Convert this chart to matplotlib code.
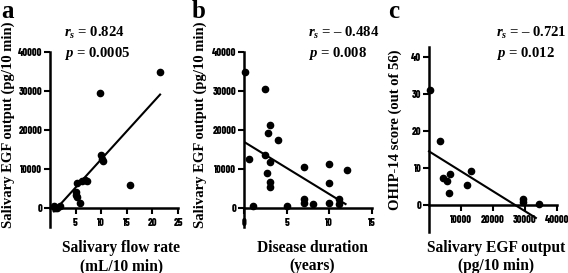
import numpy as np
import matplotlib
matplotlib.use("Agg")
import matplotlib.pyplot as plt

# data
flow_x = [21.5, 9.8, 10.0, 10.2, 10.3, 15.7, 5.9, 5.3, 5.0, 5.1, 5.2, 6.2, 6.9, 7.2, 0.75, 1.0, 1.9, 1.4]
flow_y = [34700, 29500, 13500, 12500, 12000, 5800, 1100, 6200, 4100, 3200, 2800, 6700, 7100, 6800, 300, -200, 300, 0]
flow_fit_x = [0.75, 21.5]
flow_fit_y = [-1000, 29000]

dur_x = [0.1, 0.6, 1.0, 2.5, 2.8, 3.0, 2.5, 3.1, 2.7, 3.0, 3.0, 4.0, 5.0, 7.0, 7.0, 7.0, 8.1, 10.0, 10.0, 10.0, 11.1, 11.1, 12.1]
dur_y = [34900, 12400, 400, 30600, 19100, 21200, 13500, 11800, 8800, 6700, 5400, 17500, 400, 10500, 2100, 1300, 900, 11200, 6200, 1100, 2100, 900, 9700]
dur_fit_x = [0.0, 11.9]
dur_fit_y = [16900, 900]

egf_x = [200, 3300, 4400, 5700, 6100, 6600, 12000, 13000, 29300, 29300, 34500]
ohip_y = [31, 17.2, 7.3, 6.4, 3.3, 8.3, 5.3, 9.1, 1.6, 0.7, 0.3]
ohip_fit_x = [0, 33400]
ohip_fit_y = [14.5, -3.5]

labels = ['a', 'b', 'c']
stats = [(r'$r_s$ = 0.824', r'$p$ = 0.0005'),
         (r'$r_s$ = –' + '\u2009' + '0.484', r'$p$ = 0.008'),
         (r'$r_s$ = –' + '\u2009' + '0.721', r'$p$ = 0.012')]

serif = 'Liberation Serif'
tickfont = ['Barlow Condensed', 'Archivo Narrow', 'DejaVu Sans']

plt.rcParams['mathtext.fontset'] = 'custom'
plt.rcParams['mathtext.it'] = 'Liberation Serif:bold:italic'
plt.rcParams['mathtext.rm'] = 'Liberation Serif:bold'
plt.rcParams['mathtext.bf'] = 'Liberation Serif:bold'

W, H = 568, 273
fig = plt.figure(figsize=(W / 100, H / 100), dpi=100)

def box(l, r, t, b):
    return [l / W, 1 - b / H, (r - l) / W, (b - t) / H]

axa = fig.add_axes(box(50, 178, 51.7, 227))
axb = fig.add_axes(box(244, 372, 52, 227))
axc = fig.add_axes(box(429, 557, 47, 232))

def style(ax, xt, yt, xlim, ylim):
    ax.set_xlim(*xlim)
    ax.set_ylim(*ylim)
    ax.spines['top'].set_visible(False)
    ax.spines['right'].set_visible(False)
    ax.spines['bottom'].set_position(('data', 0))
    for s in ('left', 'bottom'):
        ax.spines[s].set_linewidth(1.8)
    ax.set_xticks(xt)
    ax.set_yticks(yt)
    ax.set_xticklabels([str(v) for v in xt])
    ax.set_yticklabels([str(v) for v in yt])
    ax.tick_params(direction='out', length=4, width=1.5, pad=1.5,
                   labelsize=7.5)
    ax.tick_params(axis='x', pad=3.5)
    for t in ax.get_xticklabels() + ax.get_yticklabels():
        t.set_fontfamily(tickfont)
        t.set_fontweight('heavy')
    ax.patch.set_visible(False)

style(axa, [5, 10, 15, 20, 25], [0, 10000, 20000, 30000, 40000], (0, 25), (-5000, 40000))
style(axb, [0, 5, 10, 15], [0, 10000, 20000, 30000, 40000], (0, 15), (-5000, 40000))
style(axc, [10000, 20000, 30000, 40000], [0, 10, 20, 30, 40], (0, 40000), (-7.3, 42.7))

axa.plot(flow_x, flow_y, 'o', color='black', ms=4.5, clip_on=False)
axa.plot(flow_fit_x, flow_fit_y, '-', color='black', lw=1.5)
axb.plot(dur_x, dur_y, 'o', color='black', ms=4.5, clip_on=False)
axb.plot(dur_fit_x, dur_fit_y, '-', color='black', lw=1.5)
axc.plot(egf_x, ohip_y, 'o', color='black', ms=4.5, clip_on=False)
axc.plot(ohip_fit_x, ohip_fit_y, '-', color='black', lw=1.5, clip_on=False)

tkw = dict(family=serif, weight='bold')

# panel letters
for x, lab in zip([1, 192, 388], labels):
    fig.text(x / W, 1 - 18 / H, lab, family=serif, weight='bold', fontsize=18, va='baseline')

# stats
for x, (r, p) in zip([64, 308, 496], stats):
    fig.text(x / W, 1 - 33 / H, r, va='center', fontsize=10.6, **tkw)
    fig.text(x / W, 1 - 53 / H, p, va='center', fontsize=10.6, **tkw)

# y labels
fig.text(8 / W, 1 - 228 / H, 'Salivary EGF output (pg/10 min)', rotation=90,
         ha='center', va='bottom', fontsize=10.5, **tkw)
fig.text(200 / W, 1 - 228 / H, 'Salivary EGF output (pg/10 min)', rotation=90,
         ha='center', va='bottom', fontsize=10.5, **tkw)
fig.text(395 / W, 1 - 210 / H, 'OHIP-14 score (out of 56)', rotation=90,
         ha='center', va='bottom', fontsize=10.5, **tkw)

# x labels
for x, l1, l2 in [(121, 'Salivary flow rate', '(mL/10 min)'),
                  (312, 'Disease duration', '(years)'),
                  (496, 'Salivary EGF output', '(pg/10 min)')]:
    fig.text(x / W, 1 - 248 / H, l1, ha='center', va='center', fontsize=11.2, **tkw)
    fig.text(x / W, 1 - 266 / H, l2, ha='center', va='center', fontsize=11.2, **tkw)

fig.savefig('out.png', dpi=100)
